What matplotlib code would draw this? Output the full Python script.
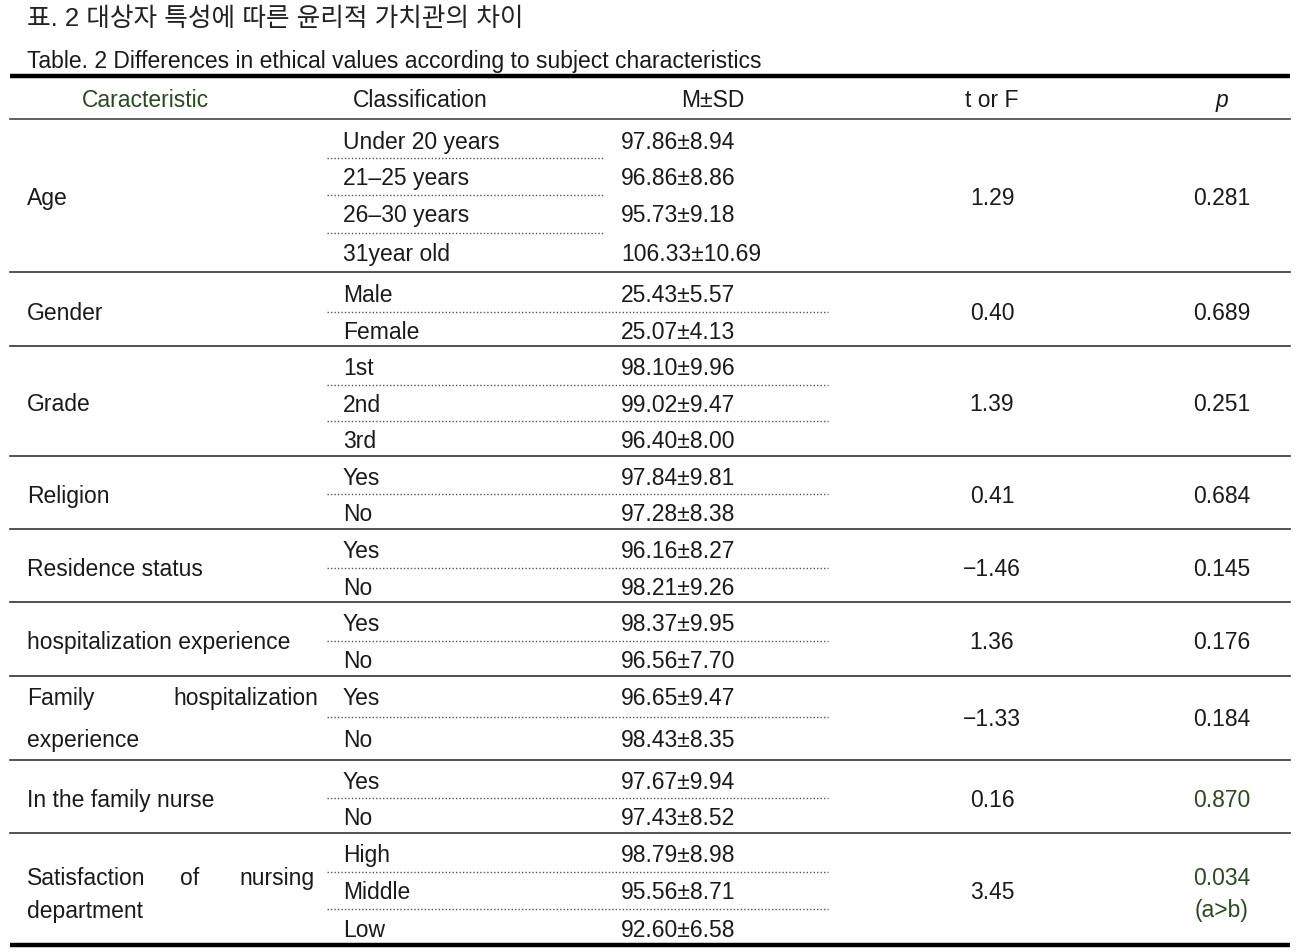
import matplotlib.pyplot as plt
from matplotlib import font_manager

# pick a narrow font if present
names = {f.name for f in font_manager.fontManager.ttflist}
base = 'Liberation Sans Narrow' if 'Liberation Sans Narrow' in names else 'Liberation Sans'
plt.rcParams['font.family'] = [base, 'Noto Sans CJK KR', 'DejaVu Sans']

title_ko = "표. 2 대상자 특성에 따른 윤리적 가치관의 차이"
title_en = "Table. 2 Differences in ethical values according to subject characteristics"
headers = ["Caracteristic", "Classification", "M±SD", "t or F", "p"]

groups = ["Age", "Gender", "Grade", "Religion", "Residence status",
          "hospitalization experience", "Family hospitalization experience",
          "In the family nurse", "Satisfaction of nursing department"]
classes = [["Under 20 years", "21–25 years", "26–30 years", "31year old"],
           ["Male", "Female"],
           ["1st", "2nd", "3rd"],
           ["Yes", "No"],
           ["Yes", "No"],
           ["Yes", "No"],
           ["Yes", "No"],
           ["Yes", "No"],
           ["High", "Middle", "Low"]]
msd = [["97.86±8.94", "96.86±8.86", "95.73±9.18", "106.33±10.69"],
       ["25.43±5.57", "25.07±4.13"],
       ["98.10±9.96", "99.02±9.47", "96.40±8.00"],
       ["97.84±9.81", "97.28±8.38"],
       ["96.16±8.27", "98.21±9.26"],
       ["98.37±9.95", "96.56±7.70"],
       ["96.65±9.47", "98.43±8.35"],
       ["97.67±9.94", "97.43±8.52"],
       ["98.79±8.98", "95.56±8.71", "92.60±6.58"]]
t_or_f = ["1.29", "0.40", "1.39", "0.41", "−1.46", "1.36", "−1.33", "0.16", "3.45"]
p_vals = ["0.281", "0.689", "0.251", "0.684", "0.145", "0.176", "0.184", "0.870", "0.034\n(a>b)"]

# row centres (pixels from top) for each sub-row
row_y = [[140, 176, 213, 252], [293, 330], [366, 403, 439], [476, 512],
         [549, 586], [622, 659], [696, 738], [780, 816], [853, 890, 928]]
group_bottom = [273, 347, 457, 530, 603, 677, 761, 834]

green = '#2a4a22'
fs = 16.5
dy = 2.5  # nudge text down a bit

fig = plt.figure(figsize=(13.1, 9.53), dpi=100)
ax = fig.add_axes([0, 0, 1, 1])
ax.set_xlim(0, 1310)
ax.set_ylim(953, 0)
ax.axis('off')


def txt(x, y, s, ha='left', color='#1a1a1a', size=fs, **kw):
    ax.text(x, y + dy, s, fontsize=size, ha=ha, va='center', color=color, **kw)


txt(27, 17, title_ko, color='#222222', size=18.5)
txt(27, 59, title_en, size=16.5)

# header
ax.plot([10, 1290], [77, 77], color='black', lw=3.2, solid_capstyle='butt')
hx = [145, 420, 713, 992, 1222]
for i, h in enumerate(headers):
    txt(hx[i], 98, h, ha='center', color=green if i == 0 else '#1a1a1a',
        style='italic' if h == 'p' else 'normal')
ax.plot([10, 1290], [120, 120], color='#555555', lw=1.3)

for g in range(len(groups)):
    ys = row_y[g]
    ymid = (ys[0] + ys[-1]) / 2
    name = groups[g]
    if name.startswith("Family hosp"):
        txt(27, ys[0], "Family")
        txt(318, ys[0], "hospitalization", ha='right')
        txt(27, ys[1], "experience")
    elif name.startswith("Satisfaction"):
        txt(27, 876, "Satisfaction")
        txt(190, 876, "of", ha='center')
        txt(315, 876, "nursing", ha='right')
        txt(27, 909, "department")
    else:
        txt(27, ymid, name)

    for k, y in enumerate(ys):
        txt(343, y, classes[g][k])
        txt(621, y, msd[g][k])
        if k < len(ys) - 1:
            yd = (ys[k] + ys[k + 1]) / 2 + 1
            x_end = 604 if g == 0 else 828
            ax.plot([327, x_end], [yd, yd], color='#555555', lw=1.0, ls=(0, (1, 1.5)))

    txt(992, ymid, t_or_f[g], ha='center')
    pc = green if g >= 7 else '#1a1a1a'
    if g == 8:
        txt(1222, 876, "0.034", ha='center', color=pc)
        txt(1222, 908, "(a>b)", ha='center', color=pc)
    else:
        txt(1222, ymid, p_vals[g], ha='center', color=pc)

    if g < len(group_bottom):
        yb = group_bottom[g]
        ax.plot([10, 1290], [yb, yb], color='#333333', lw=1.2)

ax.plot([10, 1290], [946, 946], color='black', lw=3.2, solid_capstyle='butt')

fig.savefig('out.png', dpi=100)
